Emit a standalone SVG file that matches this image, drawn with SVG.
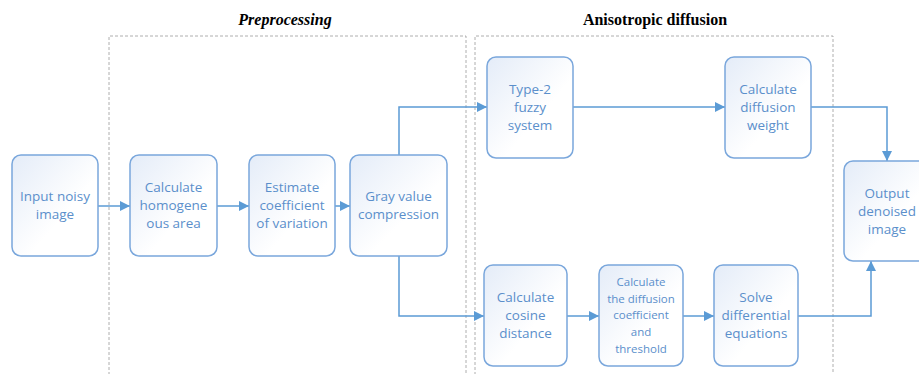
<svg xmlns="http://www.w3.org/2000/svg" width="919" height="374" viewBox="0 0 919 374">
<defs>
<linearGradient id="g" x1="0" y1="0" x2="1" y2="1">
<stop offset="0" stop-color="#e4ecf8"/>
<stop offset="0.6" stop-color="#ffffff"/>
</linearGradient>
<marker id="a" viewBox="0 0 10 10" refX="10" refY="5" markerWidth="10" markerHeight="10" markerUnits="userSpaceOnUse" orient="auto">
<path d="M0,0 L10,5 L0,10 z" fill="#5b9bd5"/>
</marker>
<style>
.n{fill:url(#g);stroke:#7aa7dc;stroke-width:1.5}
.t{font-family:"Open Sans","Liberation Sans",sans-serif;font-size:13.5px;fill:#5b8fcb;text-anchor:middle}
.s{font-size:11.5px}
.c{fill:none;stroke:#5b9bd5;stroke-width:1.5;marker-end:url(#a)}
.d{fill:none;stroke:#9a9a9a;stroke-width:0.8;stroke-dasharray:3,2}
.h{font-family:"Liberation Serif",serif;font-size:16px;font-weight:bold;text-anchor:middle;fill:#000}
</style>
</defs>
<rect width="919" height="374" fill="#fff"/>
<g id="groups">
<path class="d" d="M109,375 V36 H466 V375"/>
<path class="d" d="M475,375 V36 H833 V375"/>
<text class="h" x="285" y="25" font-style="italic">Preprocessing</text>
<text class="h" x="655" y="25">Anisotropic diffusion</text>
</g>
<g id="connectors">
<path class="c" d="M98,206 H130"/>
<path class="c" d="M217,206 H249"/>
<path class="c" d="M335,206 H350"/>
<path class="c" d="M399,155 V107 H487"/>
<path class="c" d="M399,256 V316 H484"/>
<path class="c" d="M573,107 H725"/>
<path class="c" d="M811,107 H887 V161"/>
<path class="c" d="M567,316 H599"/>
<path class="c" d="M683,316 H714"/>
<path class="c" d="M798,316 H871 V261"/>
</g>
<g id="input">
<rect class="n" x="12" y="155" width="86" height="101" rx="9"/>
<text class="t" x="55" y="201">Input noisy</text>
<text class="t" x="55" y="219">image</text>
</g>
<g id="homogeneous">
<rect class="n" x="130" y="155" width="87" height="101" rx="9"/>
<text class="t" x="173.5" y="192">Calculate</text>
<text class="t" x="173.5" y="210">homogene</text>
<text class="t" x="173.5" y="228">ous area</text>
</g>
<g id="estimate">
<rect class="n" x="249" y="155" width="86" height="101" rx="9"/>
<text class="t" x="292" y="192">Estimate</text>
<text class="t" x="292" y="210">coefficient</text>
<text class="t" x="292" y="228">of variation</text>
</g>
<g id="gray">
<rect class="n" x="350" y="155" width="97" height="101" rx="9"/>
<text class="t" x="398.5" y="201">Gray value</text>
<text class="t" x="398.5" y="219">compression</text>
</g>
<g id="fuzzy">
<rect class="n" x="487" y="57" width="86" height="101" rx="9"/>
<text class="t" x="530" y="94">Type-2</text>
<text class="t" x="530" y="112">fuzzy</text>
<text class="t" x="530" y="130">system</text>
</g>
<g id="weight">
<rect class="n" x="725" y="57" width="86" height="101" rx="9"/>
<text class="t" x="768" y="94">Calculate</text>
<text class="t" x="768" y="112">diffusion</text>
<text class="t" x="768" y="130">weight</text>
</g>
<g id="output">
<rect class="n" x="844" y="161" width="86" height="100" rx="9"/>
<text class="t" x="887" y="198">Output</text>
<text class="t" x="887" y="216">denoised</text>
<text class="t" x="887" y="234">image</text>
</g>
<g id="cosine">
<rect class="n" x="484" y="265" width="83" height="101" rx="9"/>
<text class="t" x="525.5" y="302">Calculate</text>
<text class="t" x="525.5" y="320">cosine</text>
<text class="t" x="525.5" y="338">distance</text>
</g>
<g id="coefficient">
<rect class="n" x="599" y="265" width="84" height="101" rx="9"/>
<text class="t s" x="641" y="286">Calculate</text>
<text class="t s" x="641" y="303">the diffusion</text>
<text class="t s" x="641" y="319">coefficient</text>
<text class="t s" x="641" y="336">and</text>
<text class="t s" x="641" y="353">threshold</text>
</g>
<g id="solve">
<rect class="n" x="714" y="265" width="84" height="101" rx="9"/>
<text class="t" x="756" y="302">Solve</text>
<text class="t" x="756" y="320">differential</text>
<text class="t" x="756" y="338">equations</text>
</g>
</svg>
